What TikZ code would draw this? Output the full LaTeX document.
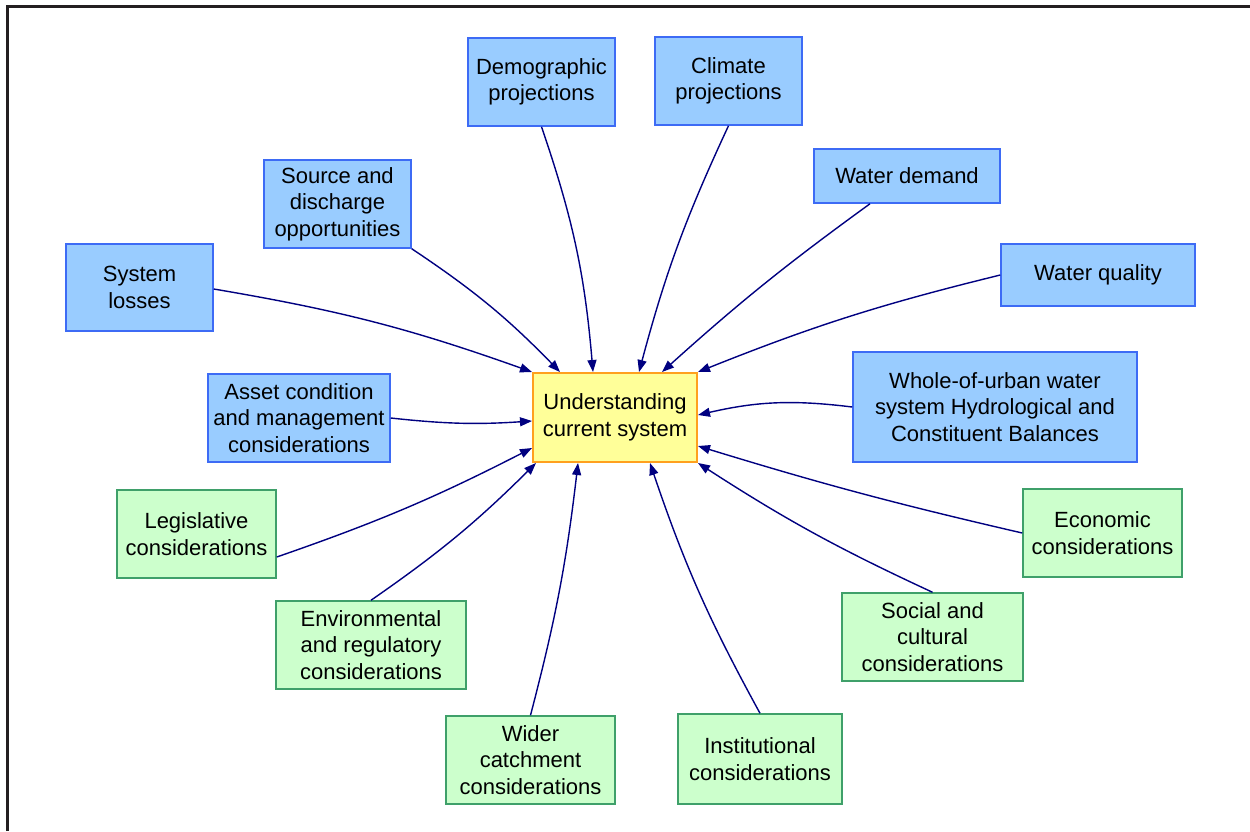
\documentclass[tikz,border=0pt]{standalone}
\usepackage{fontspec}
\setmainfont{Liberation Sans}
\usetikzlibrary{arrows.meta}
\definecolor{blueFill}{HTML}{99CCFF}
\definecolor{blueLine}{HTML}{3D6BF5}
\definecolor{greenFill}{HTML}{CCFFCC}
\definecolor{greenLine}{HTML}{3FA06A}
\definecolor{coreFill}{HTML}{FFFF99}
\definecolor{coreLine}{HTML}{FFA01E}
\definecolor{linkCol}{HTML}{000080}
\definecolor{frameCol}{HTML}{231F20}
\begin{document}
\begin{tikzpicture}[x=1pt,y=-1pt,
  box/.style={rectangle, align=center, inner sep=0pt, line width=1.5pt,
    font=\fontsize{22}{26.5}\selectfont},
  inbox/.style={box, fill=blueFill, draw=blueLine},
  ctxbox/.style={box, fill=greenFill, draw=greenLine},
  corebox/.style={box, fill=coreFill, draw=coreLine, line width=2pt},
  link/.style={draw=linkCol, line width=1.4pt, -{Triangle[length=12pt,width=9pt]}}]
\useasboundingbox (0,0) rectangle (1250,831);
% frame
\draw[line width=3pt, frameCol] (7.5,831) -- (7.5,6) -- (1250,6);

% central node
\node[corebox, minimum width=164, minimum height=89] (core) at (615,417.5) {Understanding\\current system};

% inputs (blue)
\node[inbox, minimum width=147, minimum height=88] (demo) at (541.5,82) {Demographic\\projections};
\node[inbox, minimum width=147, minimum height=88] (clim) at (728.5,81) {Climate\\projections};
\node[inbox, minimum width=186, minimum height=54] (wdem) at (907,176) {Water demand};
\node[inbox, minimum width=194, minimum height=62] (wqual) at (1098,275) {Water quality};
\node[inbox, minimum width=284, minimum height=110] (whole) at (995,407) {Whole-of-urban water\\system Hydrological and\\Constituent Balances};
\node[inbox, minimum width=147, minimum height=88] (src) at (337.5,204) {Source and\\discharge\\opportunities};
\node[inbox, minimum width=147, minimum height=87] (loss) at (139.5,287.5) {System\\losses};
\node[inbox, minimum width=182, minimum height=88] (asset) at (299,418) {Asset condition\\and management\\considerations};

% considerations (green)
\node[ctxbox, minimum width=159, minimum height=88] (legis) at (196.5,534) {Legislative\\considerations};
\node[ctxbox, minimum width=190, minimum height=88] (env) at (371,645) {Environmental\\and regulatory\\considerations};
\node[ctxbox, minimum width=169, minimum height=88] (wider) at (530.5,760) {Wider\\catchment\\considerations};
\node[ctxbox, minimum width=164, minimum height=90] (inst) at (760,759) {Institutional\\considerations};
\node[ctxbox, minimum width=181, minimum height=88] (social) at (932.5,637) {Social and\\cultural\\considerations};
\node[ctxbox, minimum width=159, minimum height=88] (econ) at (1102.5,533) {Economic\\considerations};

% connectors
\draw[link] (src.south east) to[bend left=6] ([xshift=-55pt]core.north);
\draw[link] (demo.south) to[bend left=7] ([xshift=-22pt]core.north);
\draw[link] (clim.south) to[bend right=5] ([xshift=24pt]core.north);
\draw[link] ([xshift=-37pt]wdem.south) to[bend right=3] ([xshift=47pt]core.north);
\draw[link] (wqual.west) to[bend right=4] (core.north east);
\draw[link] (whole.west) to[bend right=10] ([yshift=2.5pt]core.east);
\draw[link] (econ.west) to[bend left=2] ([yshift=-28.5pt]core.east);
\draw[link] (social.north) to[bend left=4] (core.south east);
\draw[link] (inst.north) to[bend left=5] ([xshift=35pt]core.south);
\draw[link] (wider.north) to[bend right=4] ([xshift=-37pt]core.south);
\draw[link] (env.north) to[bend right=5] ([xshift=4pt]core.south west);
\draw[link] ([yshift=-23pt]legis.east) to[bend right=4] ([yshift=-30.5pt]core.west);
\draw[link] (asset.east) to[bend right=5] ([yshift=-3.5pt]core.west);
\draw[link] ([yshift=-1.5pt]loss.east) to[bend left=5] (core.north west);
\end{tikzpicture}
\end{document}
